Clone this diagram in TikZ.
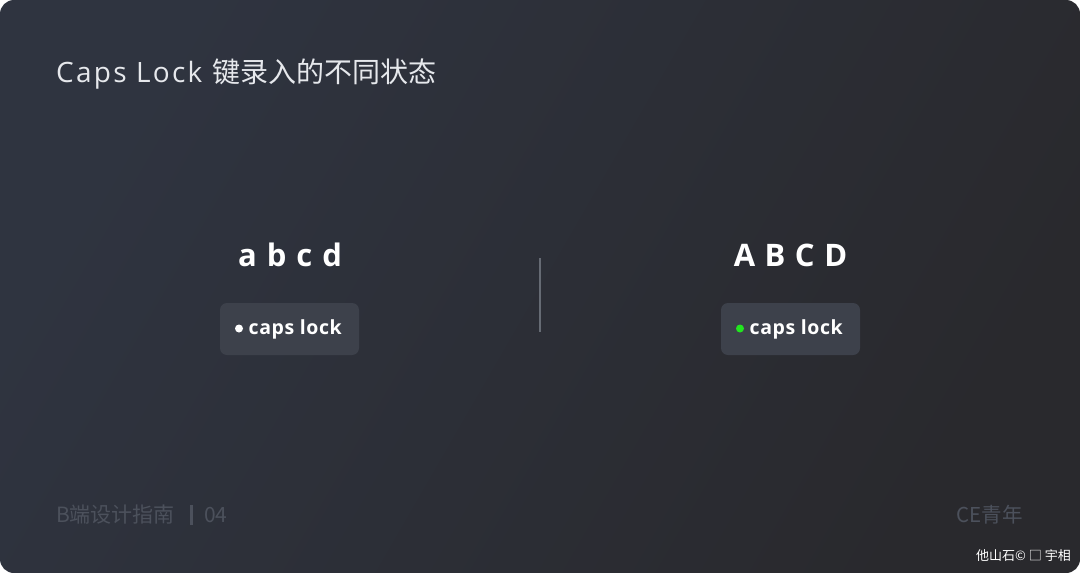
\documentclass[tikz,border=0pt]{standalone}
\usepackage{fontspec}
\setmainfont{Open Sans}
\newfontfamily\cjk{Noto Sans CJK SC}
\newfontfamily\os{Open Sans}
\newfontfamily\osl[LetterSpace=8]{Open Sans}
\newfontfamily\osk[LetterSpace=3]{Open Sans}
\definecolor{bgA}{HTML}{2F3440}
\definecolor{bgB}{HTML}{29292D}
\definecolor{keyfill}{HTML}{3D414B}
\definecolor{titlecol}{HTML}{E6E8EC}
\definecolor{footcol}{HTML}{4C515C}
\definecolor{divcol}{HTML}{666B74}
\definecolor{ledgreen}{HTML}{22E51F}
\tikzset{
  keybox/.style={fill=keyfill, rounded corners=7pt, minimum width=139pt, minimum height=52pt, inner sep=0pt},
  bigletters/.style={text=white, font=\os\bfseries\fontsize{31}{33}\selectfont, inner sep=0pt},
  keylabel/.style={text=white, font=\osk\bfseries\fontsize{19.5}{22}\selectfont, inner sep=0pt, anchor=west},
  footer/.style={text=footcol, inner sep=0pt},
}
\begin{document}
\begin{tikzpicture}[x=1pt,y=-1pt]
\useasboundingbox (0,0) rectangle (1080,573);
\fill[white] (0,0) rectangle (1080,573);
\shade[left color=bgA, right color=bgB, shading angle=60, rounded corners=14pt] (0,0) rectangle (1080,573);
% title
\node[anchor=west, inner sep=0pt, text=titlecol, font=\fontsize{28}{30}\selectfont] (title) at (56,74) {\osl Caps Lock\hspace{10pt}\cjk 键录入的不同状态};
% letters
\node[bigletters] (lower) at (290,255) {a\hspace{10pt}b\hspace{10pt}c\hspace{10pt}d};
\node[bigletters] (upper) at (790.5,255) {A\hspace{9.5pt}B\hspace{9.5pt}C\hspace{9.5pt}D};
% divider
\coordinate (dtop) at (540,258);
\coordinate (dbot) at (540,332);
\draw[divcol, line width=1.5pt] (dtop) -- (dbot);
% keys
\node[keybox] (keyL) at (289.5,329) {};
\node[keybox] (keyR) at (790.5,329) {};
\fill[white] (239,328.5) circle (4);
\fill[ledgreen] (740,328.5) circle (4);
\node[keylabel] (capsL) at (248.5,329.5) {caps lock};
\node[keylabel] (capsR) at (749.5,329.5) {caps lock};
% footer
\node[footer, anchor=west, font=\cjk\fontsize{21}{24}\selectfont] (foot) at (56,515) {B端设计指南};
\fill[footcol] (189.5,505) rectangle (192.5,525);
\node[footer, anchor=west, font=\cjk\fontsize{21}{24}\selectfont] (page) at (204,515) {04};
\node[footer, anchor=east, font=\cjk\fontsize{20.5}{24}\selectfont] (brand) at (1023,515) {CE青年};
\node[anchor=east, inner sep=0pt, text=white, font=\cjk\fontsize{13}{15}\selectfont] (wm) at (1071,556) {他山石© □ 宇相};
\end{tikzpicture}
\end{document}
